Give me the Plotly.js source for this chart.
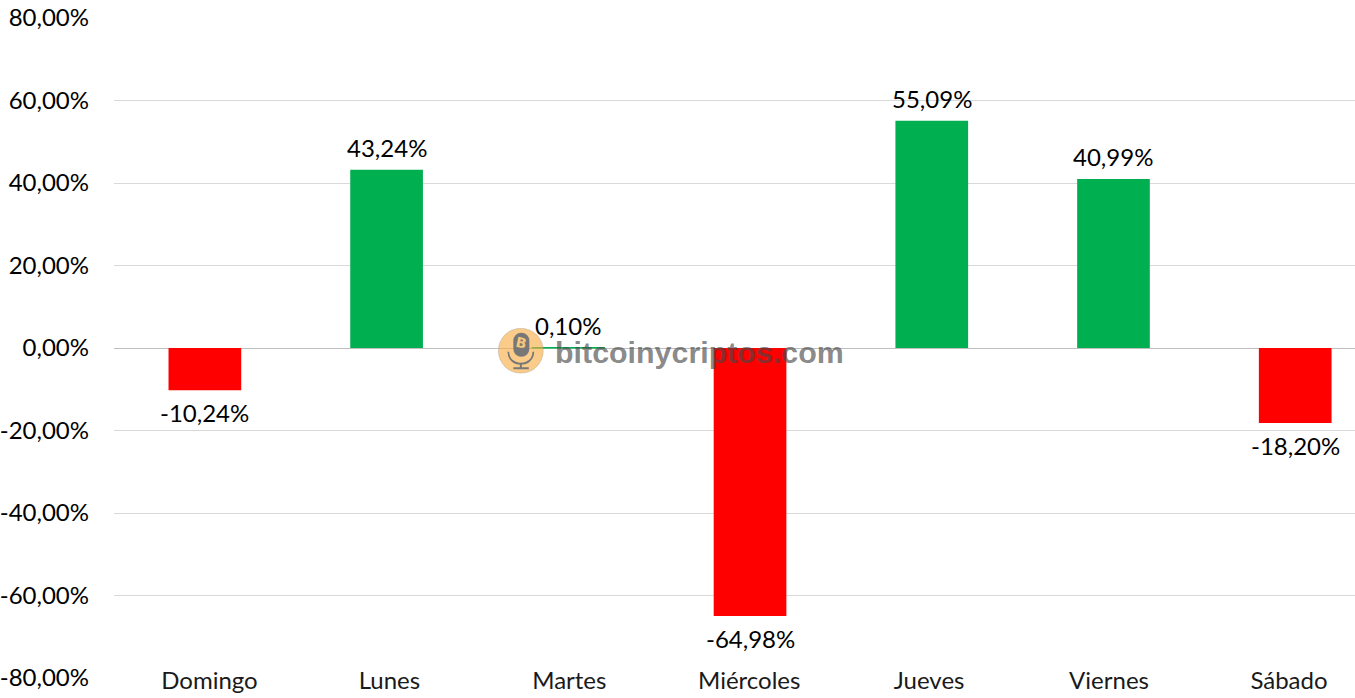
<!DOCTYPE html>
<html><head><meta charset="utf-8">
<script src="https://cdn.plot.ly/plotly-3.0.1.min.js"></script>
<style>html,body{margin:0;padding:0;background:#fff;overflow:hidden}#c{width:1355px;height:698px}</style>
</head><body><div id="c"></div>
<script>
const categories = ["Domingo","Lunes","Martes","Miércoles","Jueves","Viernes","Sábado"];
const values = [-10.24,43.24,0.10,-64.98,55.09,40.99,-18.20];
const valueLabels = ["-10,24%","43,24%","0,10%","-64,98%","55,09%","40,99%","-18,20%"];
const tickValues = [80,60,40,20,0,-20,-40,-60,-80];
const tickLabels = ["80,00%","60,00%","40,00%","20,00%","0,00%","-20,00%","-40,00%","-60,00%","-80,00%"];
const colors = values.map(v => v >= 0 ? "#00B050" : "#FF0000");
const outlineWidths = values.map(v => Math.abs(v) < 1 ? 1 : 0);
const font = "Lato, Carlito, sans-serif";
const plotW = 1241.5, plotH = 660.5;
const icon = 'data:image/svg+xml;utf8,' + encodeURIComponent(
 '<svg xmlns="http://www.w3.org/2000/svg" width="46" height="46" viewBox="0 0 46 46">'+
 '<circle cx="23" cy="23" r="22.5" fill="#F7A93B" fill-opacity="0.6" stroke="#999" stroke-opacity="0.35"/>'+
 '<rect x="15.5" y="5" width="16" height="24" rx="8" fill="#777"/>'+
 '<path d="M10.5 24 C10.5 40 35.5 40 35.5 24" fill="none" stroke="#777" stroke-width="1.7"/>'+
 '<path d="M23 35 V40 M15.5 40.5 H31" stroke="#777" stroke-width="2" fill="none"/>'+
 '<text x="23.5" y="20" font-size="14" font-weight="bold" font-family="DejaVu Sans" text-anchor="middle" fill="#F7C67A" transform="rotate(12 23.5 15)">B</text></svg>');
const dataLabels = categories.map((c,i)=>({
  xref:"x",yref:"y",x:c,y:values[i],text:valueLabels[i],showarrow:false,
  xanchor:"center",yanchor:"middle",yshift:values[i]>=0?22:-22.5,
  font:{family:font,size:24,color:"#000"}
}));
Plotly.newPlot("c",[{
  type:"bar", x:categories, y:values, width:0.4,
  marker:{color:colors,line:{width:outlineWidths,color:colors}}, hoverinfo:"skip"
},{
  type:"scatter", mode:"markers", x:categories, y:values, xaxis:"x2",
  marker:{opacity:0,size:1}, hoverinfo:"skip"
}],{
  width:1355,height:698,showlegend:false,
  paper_bgcolor:"#fff",plot_bgcolor:"#fff",
  margin:{l:113.5,r:0,t:18,b:19.5,pad:0},
  bargap:0.6,
  xaxis:{type:"category",range:[-0.5,6.329],showgrid:false,zeroline:false,showline:false,ticks:"",showticklabels:false},
  xaxis2:{type:"category",overlaying:"x",side:"bottom",anchor:"y",range:[-0.5306,6.367],showgrid:false,zeroline:false,showline:false,ticks:"",
    ticklabelstandoff:-14,tickfont:{family:font,size:24,color:"#1a1a1a"}},
  yaxis:{range:[-80,80],tickmode:"array",tickvals:tickValues,ticktext:tickLabels,
    showgrid:true,gridcolor:"#D9D9D9",gridwidth:1,zeroline:true,zerolinecolor:"#BFBFBF",zerolinewidth:1,
    showline:false,ticks:"",ticklabelstandoff:24,tickfont:{family:font,size:24,color:"#000"}},
  shapes:[{type:"rect",layer:"between",xref:"paper",yref:"y",x0:0.0055,x1:1,y0:-81,y1:-79,fillcolor:"#fff",line:{width:0}}],
  images:[{source:icon,xref:"paper",yref:"paper",x:(497.5-113.5)/plotW,y:(678.5-328)/plotH,sizex:46/plotW,sizey:46/plotH,sizing:"stretch",xanchor:"left",yanchor:"top",layer:"above"}],
  annotations:dataLabels.concat([{text:"<b>bitcoinycriptos.com</b>",xref:"paper",yref:"paper",x:(553-113.5)/plotW,y:(678.5-352)/plotH,xanchor:"left",yanchor:"middle",showarrow:false,
    font:{family:"Liberation Sans, Arial",size:30.4,color:"rgba(70,70,70,0.65)"}}])
},{displayModeBar:false,staticPlot:true});
</script></body></html>
